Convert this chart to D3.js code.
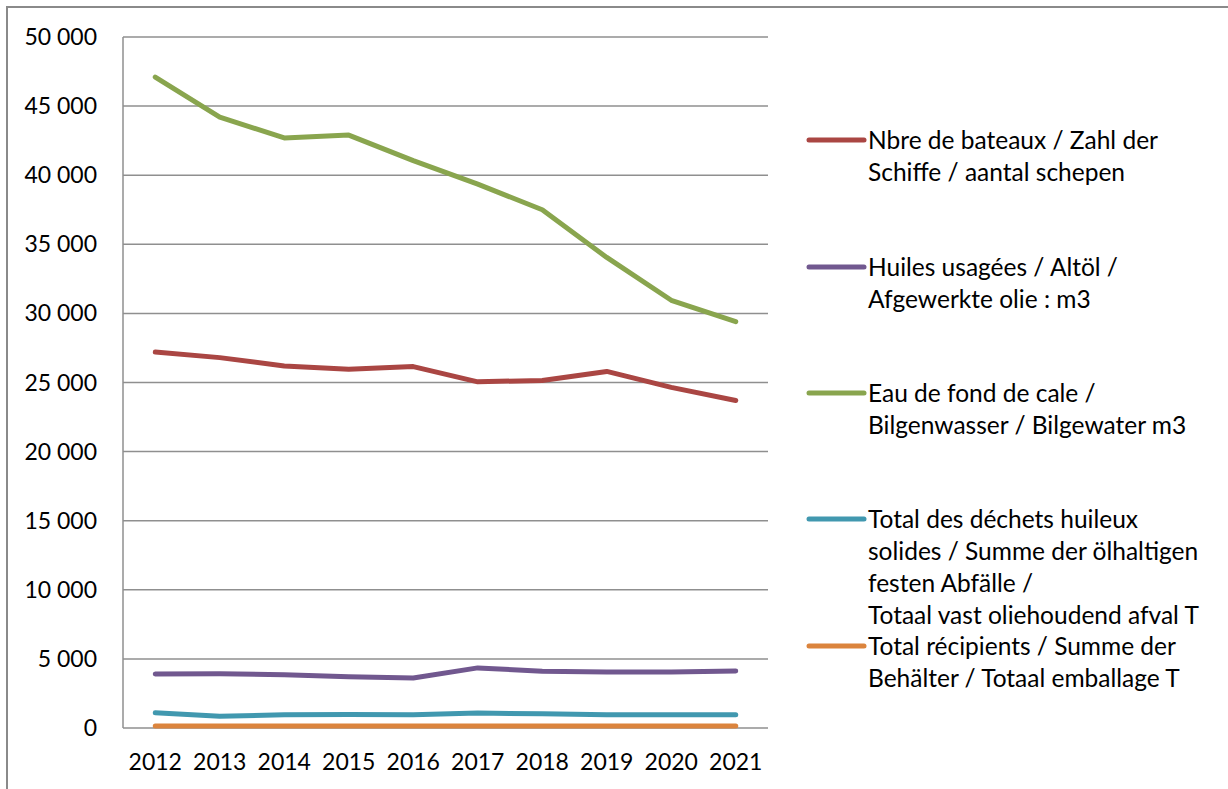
<!DOCTYPE html>
<html>
<head>
<meta charset="utf-8">
<script src="https://cdn.jsdelivr.net/npm/d3@7"></script>
<style>
    body { margin: 0; background: #fff; }
    svg { font-family: "Lato", "Open Sans", sans-serif; }
    .grid line { stroke: #8f8f8f; stroke-width: 1.5px; }
    .axis-line { stroke: #8f8f8f; stroke-width: 1.5px; }
    .tick-label { font-size: 23px; fill: #000; }
    .legend text { font-size: 24.5px; fill: #000; }
    path.series { fill: none; stroke-width: 5px; stroke-linecap: round; stroke-linejoin: round; }
</style>
</head>
<body>
<div id="chart"></div>
<script>
    var years = ["2012", "2013", "2014", "2015", "2016", "2017", "2018", "2019", "2020", "2021"];
    var yTicks = [0, 5000, 10000, 15000, 20000, 25000, 30000, 35000, 40000, 45000, 50000];

    var bateaux   = [27200, 26800, 26200, 25950, 26150, 25050, 25150, 25800, 24650, 23700];
    var huiles    = [3900, 3920, 3850, 3700, 3620, 4350, 4100, 4050, 4050, 4120];
    var eauCale   = [47100, 44200, 42700, 42900, 41050, 39350, 37500, 34050, 30950, 29400];
    var dechets   = [1100, 850, 960, 980, 960, 1080, 1030, 960, 960, 960];
    var recipients = [140, 140, 140, 140, 140, 140, 140, 140, 140, 140];

    var seriesNames = [
        ["Nbre de bateaux / Zahl der", "Schiffe / aantal schepen"],
        ["Huiles usagées / Altöl /", "Afgewerkte olie : m3"],
        ["Eau de fond de cale /", "Bilgenwasser / Bilgewater m3"],
        ["Total des déchets huileux", "solides / Summe der ölhaltigen", "festen Abfälle /", "Totaal vast oliehoudend afval T"],
        ["Total récipients / Summe der", "Behälter / Totaal emballage T"]
    ];
    var seriesColors = ["#AA4643", "#71588F", "#89A54E", "#4198AF", "#DB843D"];
    var seriesValues = [bateaux, huiles, eauCale, dechets, recipients];

    var width = 1228, height = 789;
    var plot = {left: 123, right: 768, top: 37, bottom: 728};

    var svg = d3.select("#chart").append("svg")
        .attr("width", width)
        .attr("height", height);

    // outer frame (runs off the right and bottom edges)
    svg.append("rect")
        .attr("x", 7).attr("y", 7)
        .attr("width", width + 20).attr("height", height + 20)
        .attr("fill", "none")
        .attr("stroke", "#8a8a8a")
        .attr("stroke-width", 2);

    var x = d3.scaleBand().domain(years).range([plot.left, plot.right]);
    var y = d3.scaleLinear().domain([0, 50000]).range([plot.bottom, plot.top]);

    var fmt = d3.formatLocale({decimal: ",", thousands: " ", grouping: [3], currency: ["", ""]}).format(",d");

    // gridlines
    svg.append("g").attr("class", "grid")
        .selectAll("line")
        .data(yTicks.filter(function(d) { return d > 0; }))
        .enter().append("line")
        .attr("x1", plot.left).attr("x2", plot.right)
        .attr("y1", function(d) { return y(d); })
        .attr("y2", function(d) { return y(d); });

    // axes lines
    svg.append("line").attr("class", "axis-line")
        .attr("x1", plot.left).attr("x2", plot.left)
        .attr("y1", plot.top).attr("y2", plot.bottom);
    svg.append("line").attr("class", "axis-line")
        .attr("x1", plot.left).attr("x2", plot.right)
        .attr("y1", plot.bottom).attr("y2", plot.bottom);

    // y tick labels
    svg.append("g").selectAll("text")
        .data(yTicks)
        .enter().append("text")
        .attr("class", "tick-label")
        .attr("x", plot.left - 26)
        .attr("y", function(d) { return y(d); })
        .attr("dy", "0.35em")
        .attr("text-anchor", "end")
        .text(function(d) { return fmt(d); });

    // x tick labels
    svg.append("g").selectAll("text")
        .data(years)
        .enter().append("text")
        .attr("class", "tick-label")
        .attr("x", function(d) { return x(d) + x.bandwidth() / 2; })
        .attr("y", 762)
        .attr("dy", "0.35em")
        .attr("text-anchor", "middle")
        .text(function(d) { return d; });

    var line = d3.line()
        .x(function(d, i) { return x(years[i]) + x.bandwidth() / 2; })
        .y(function(d) { return y(d); });

    svg.append("g").selectAll("path")
        .data(seriesValues)
        .enter().append("path")
        .attr("class", "series")
        .attr("stroke", function(d, i) { return seriesColors[i]; })
        .attr("d", line);

    /* ------- legend ------- */
    var legendY = [140, 267, 393, 519, 646];
    var lineGap = 32;

    var legend = svg.append("g").attr("class", "legend")
        .selectAll("g")
        .data(seriesNames)
        .enter().append("g")
        .attr("transform", function(d, i) { return "translate(0," + legendY[i] + ")"; });

    legend.append("line")
        .attr("x1", 809).attr("x2", 864)
        .attr("y1", 0).attr("y2", 0)
        .attr("stroke", function(d, i) { return seriesColors[i]; })
        .attr("stroke-width", 5)
        .attr("stroke-linecap", "round");

    legend.append("text")
        .attr("x", 868)
        .selectAll("tspan")
        .data(function(d) { return d; })
        .enter().append("tspan")
        .attr("x", 868)
        .attr("y", function(d, i) { return i * lineGap; })
        .attr("dy", "0.35em")
        .text(function(d) { return d; });
</script>
</body>
</html>
